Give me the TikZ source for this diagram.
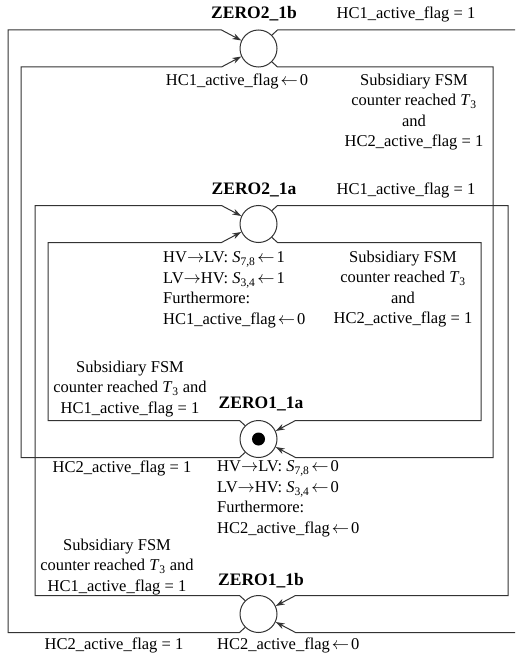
\documentclass[tikz,border=0pt]{standalone}
\usepackage{fontspec}
\setmainfont{Liberation Serif}
\usetikzlibrary{arrows.meta}
\definecolor{linec}{gray}{0.2}
\newcommand{\lar}{\hspace{2pt}$\leftarrow$\hspace{2pt}}
\newcommand{\rar}{$\rightarrow$}
\begin{document}
\begin{tikzpicture}[x=1pt,y=-1pt,
  st/.style={circle,draw=linec,line width=1pt,minimum size=37pt,inner sep=0pt},
  ln/.style={draw=linec,line width=1pt},
  arr/.style={ln,-{Stealth[length=9pt,width=6pt]}},
  lbl/.style={font=\fontsize{16.5}{20.5}\selectfont,inner sep=0pt,align=center},
  lbll/.style={lbl,align=left,anchor=west},
  ttl/.style={font=\fontsize{17.5}{20.5}\selectfont\bfseries,inner sep=0pt}]
\useasboundingbox (0,0) rectangle (515,658);
\clip (0,0) rectangle (515,658);
% states
\node[st] (z2b) at (258.5,48.5) {};
\node[st] (z2a) at (258.5,224) {};
\node[st] (z1a) at (258.5,439) {};
\node[st] (z1b) at (258.5,614) {};
\fill[black] (z1a.center) circle (6.5);
% outer loop
\draw[arr] (z2b.45) -- (277.5,30) -- (530,30) -- (530,632.5) -- (295.5,632.5) -- (z1b.-25);
\draw[arr] (z1b.225) -- (239.5,632.5) -- (8,632.5) -- (8,30) -- (221.5,30) -- (z2b.155);
% second loop
\draw[arr] (z2b.-45) -- (277.5,67) -- (493,67) -- (493,457.5) -- (295.5,457.5) -- (z1a.-25);
\draw[arr] (z1a.225) -- (239.5,457.5) -- (21,457.5) -- (21,67) -- (221.5,67) -- (z2b.205);
% third loop
\draw[arr] (z2a.45) -- (277.5,205.5) -- (508,205.5) -- (508,595.5) -- (295.5,595.5) -- (z1b.25);
\draw[arr] (z1b.135) -- (239.5,595.5) -- (35,595.5) -- (35,205.5) -- (221.5,205.5) -- (z2a.155);
% inner loop
\draw[arr] (z2a.-45) -- (277.5,242.5) -- (481,242.5) -- (481,420.5) -- (295.5,420.5) -- (z1a.25);
\draw[arr] (z1a.135) -- (239.5,420.5) -- (48,420.5) -- (48,242.5) -- (221.5,242.5) -- (z2a.205);
% titles
\node[ttl] (t2b) at (254,14) {ZERO2\_1b};
\node[ttl] (t2a) at (254,190) {ZERO2\_1a};
\node[ttl] (t1a) at (261,404) {ZERO1\_1a};
\node[ttl] (t1b) at (261,581) {ZERO1\_1b};
% labels
\node[lbl] (l1) at (406,14) {HC1\_active\_flag = 1};
\node[lbl] (l2) at (237,81) {HC1\_active\_flag\lar0};
\node[lbl] (l3) at (414,112) {Subsidiary FSM\\counter reached \textit{T}\textsubscript{3}\\and\\HC2\_active\_flag = 1};
\node[lbl] (l4) at (406,190) {HC1\_active\_flag = 1};
\node[lbll] (l5) at (163,290) {HV\rar LV: \textit{S}\textsubscript{7,8}\lar1\\LV\rar HV: \textit{S}\textsubscript{3,4}\lar1\\Furthermore:\\HC1\_active\_flag\lar0};
\node[lbl] (l6) at (403,289) {Subsidiary FSM\\counter reached \textit{T}\textsubscript{3}\\and\\HC2\_active\_flag = 1};
\node[lbl] (l7) at (130,389) {Subsidiary FSM\\counter reached \textit{T}\textsubscript{3} and\\HC1\_active\_flag = 1};
\node[lbl] (l8) at (122,468) {HC2\_active\_flag = 1};
\node[lbll] (l9) at (217,499) {HV\rar LV: \textit{S}\textsubscript{7,8}\lar0\\LV\rar HV: \textit{S}\textsubscript{3,4}\lar0\\Furthermore:\\HC2\_active\_flag\lar0};
\node[lbl] (l10) at (117,567) {Subsidiary FSM\\counter reached \textit{T}\textsubscript{3} and\\HC1\_active\_flag = 1};
\node[lbl] (l11) at (114,645) {HC2\_active\_flag = 1};
\node[lbll] (l12) at (217,645) {HC2\_active\_flag\lar0};
\end{tikzpicture}
\end{document}
